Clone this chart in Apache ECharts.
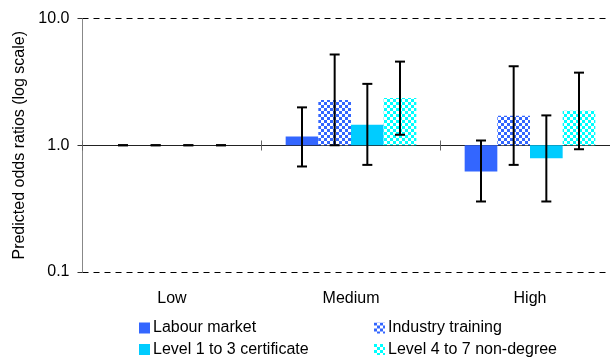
<!DOCTYPE html>
<html>
<head>
<meta charset="utf-8">
<script src="https://cdn.jsdelivr.net/npm/echarts@6/dist/echarts.min.js"></script>
<style>
  html, body { margin: 0; padding: 0; background: #fff; overflow: hidden; }
  #chart { width: 620px; height: 358px; }
</style>
</head>
<body>
<div id="chart"></div>
<script>
// Qualification level groups
const categories = ['Low', 'Medium', 'High'];
const seriesNames = ['Labour market', 'Industry training', 'Level 1 to 3 certificate', 'Level 4 to 7 non-degree'];

// Predicted odds ratios with lower / upper confidence limits
const labourMarket = [1.0, 1.17, 0.62];
const labourMarketLow = [1.0, 0.68, 0.36];
const labourMarketHigh = [1.0, 1.99, 1.09];

const industryTraining = [1.0, 2.28, 1.71];
const industryTrainingLow = [1.0, 1.0, 0.70];
const industryTrainingHigh = [1.0, 5.2, 4.2];

const level1to3 = [1.0, 1.45, 0.79];
const level1to3Low = [1.0, 0.70, 0.36];
const level1to3High = [1.0, 3.05, 1.72];

const level4to7 = [1.0, 2.36, 1.87];
const level4to7Low = [1.0, 1.21, 0.93];
const level4to7High = [1.0, 4.57, 3.74];

const yTicks = [0.1, 1, 10];

function checker(color) {
  const c = document.createElement('canvas');
  c.width = 6; c.height = 6;
  const g = c.getContext('2d');
  g.fillStyle = color; g.fillRect(0, 0, 6, 6);
  g.fillStyle = '#ffffff';
  g.fillRect(3, 0, 3, 3);
  g.fillRect(0, 3, 3, 3);
  return c;
}

const fills = [
  '#3366FF',
  { image: checker('#3366FF'), repeat: 'repeat' },
  '#00CCFF',
  { image: checker('#00FFFF'), repeat: 'repeat' }
];

const groups = [
  [labourMarket, labourMarketLow, labourMarketHigh],
  [industryTraining, industryTrainingLow, industryTrainingHigh],
  [level1to3, level1to3Low, level1to3High],
  [level4to7, level4to7Low, level4to7High]
];

function makeRender(s) {
  return function (params, api) {
    const cat = api.value(0);
    const v = api.value(1), lo = api.value(2), hi = api.value(3);
    const base = api.coord([cat, 1]);
    const top = api.coord([cat, v]);
    const band = api.size([1, 1])[0];
    const barW = band * 0.73 / 4;
    const x0 = base[0] - 2 * barW + s * barW;
    const cx = x0 + barW / 2;
    const yLo = api.coord([cat, lo])[1];
    const yHi = api.coord([cat, hi])[1];
    const children = [];
    if (Math.abs(top[1] - base[1]) > 0.5) {
      children.push({
        type: 'rect',
        shape: { x: x0, y: Math.min(base[1], top[1]), width: barW, height: Math.abs(top[1] - base[1]) },
        style: { fill: fills[s] }
      });
    }
    const ls = { stroke: '#000', lineWidth: 2 };
    children.push({ type: 'line', shape: { x1: cx, y1: yLo, x2: cx, y2: yHi }, style: ls });
    children.push({ type: 'line', shape: { x1: cx - 5, y1: yLo, x2: cx + 5, y2: yLo }, style: ls });
    children.push({ type: 'line', shape: { x1: cx - 5, y1: yHi, x2: cx + 5, y2: yHi }, style: ls });
    return { type: 'group', children: children };
  };
}

const series = seriesNames.map((name, s) => ({
  name: name,
  type: 'custom',
  xAxisIndex: 0,
  yAxisIndex: 0,
  itemStyle: { color: fills[s] },
  renderItem: makeRender(s),
  encode: { x: 0, y: [1, 2, 3] },
  data: categories.map((c, i) => [i, groups[s][0][i], groups[s][1][i], groups[s][2][i]]),
  z: 3
}));

const font = 'Arial, "Liberation Sans", sans-serif';
const catAxisBase = { type: 'category', data: categories, boundaryGap: true, position: 'bottom' };

const chart = echarts.init(document.getElementById('chart'), null, { renderer: 'canvas' });
chart.setOption({
  animation: false,
  backgroundColor: '#fff',
  // plot area runs a little past the right edge of the visible window
  grid: { left: 82.5, right: 0.5, top: 18.5, bottom: 86 },
  xAxis: [
    Object.assign({}, catAxisBase, {
      axisLine: { show: false },
      axisTick: { show: false },
      axisLabel: { color: '#000', fontSize: 16, fontFamily: font, margin: 19 }
    }),
    Object.assign({}, catAxisBase, {
      offset: -126.5,
      axisLine: { show: true, lineStyle: { color: '#222', width: 1 } },
      axisTick: { show: true, interval: 0, length: 5, inside: false, lineStyle: { color: '#666' } },
      axisLabel: { show: false }
    }),
    Object.assign({}, catAxisBase, {
      offset: -126.5,
      axisLine: { show: false },
      axisTick: { show: true, interval: 0, length: 5, inside: true, lineStyle: { color: '#666' } },
      axisLabel: { show: false }
    })
  ],
  yAxis: {
    type: 'log',
    logBase: 10,
    min: yTicks[0],
    max: yTicks[yTicks.length - 1],
    name: 'Predicted odds ratios (log scale)',
    nameLocation: 'middle',
    nameGap: 52,
    nameTextStyle: { color: '#000', fontSize: 16, fontFamily: font },
    axisLine: { show: true, lineStyle: { color: '#888', width: 1 } },
    axisTick: { show: true, length: 5, lineStyle: { color: '#333' } },
    axisLabel: {
      color: '#000', fontSize: 16, fontFamily: font, margin: 13,
      formatter: v => Number(v).toFixed(1)
    },
    splitLine: { show: true, lineStyle: { color: '#000', type: [6, 5], width: 1 } }
  },
  legend: [
    {
      data: [seriesNames[0], seriesNames[2]],
      orient: 'vertical', left: 139, top: 320,
      itemWidth: 11, itemHeight: 11, itemGap: 5.5,
      icon: 'rect',
      textStyle: { color: '#000', fontSize: 16, fontFamily: font, lineHeight: 16, padding: [0, 0, 0, -2] },
      padding: 0, selectedMode: false
    },
    {
      data: [seriesNames[1], seriesNames[3]],
      orient: 'vertical', left: 374, top: 320,
      itemWidth: 11, itemHeight: 11, itemGap: 5.5,
      icon: 'rect',
      textStyle: { color: '#000', fontSize: 16, fontFamily: font, lineHeight: 16, padding: [0, 0, 0, -2] },
      padding: 0, selectedMode: false
    }
  ],
  series: series
});
</script>
</body>
</html>
